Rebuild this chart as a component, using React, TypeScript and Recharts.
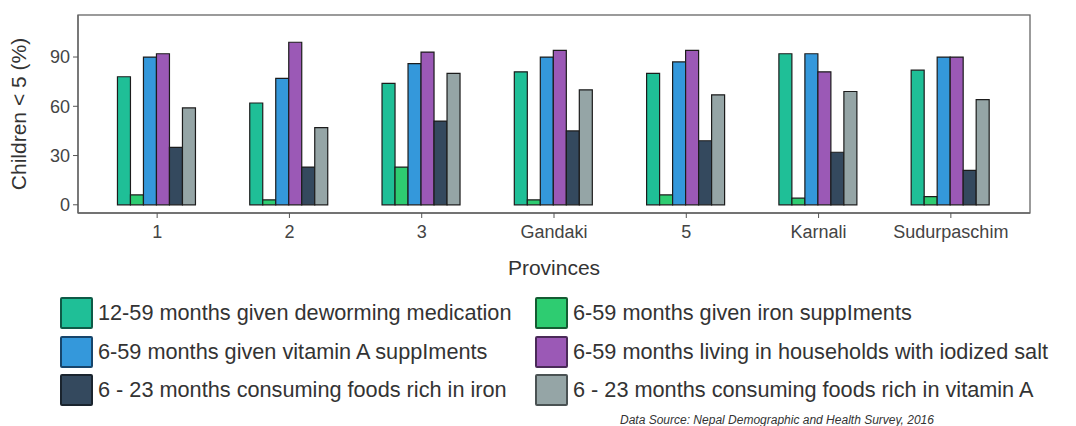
import { Bar, BarChart, Label, XAxis, YAxis, usePlotArea } from "recharts"

const provinces = ["1", "2", "3", "Gandaki", "5", "Karnali", "Sudurpaschim"]

const deworming = [78, 62, 74, 81, 80, 92, 82]
const ironSupp = [6, 3, 23, 3, 6, 4, 5]
const vitaminASupp = [90, 77, 86, 90, 87, 92, 90]
const iodizedSalt = [92, 99, 93, 94, 94, 81, 90]
const ironFoods = [35, 23, 51, 45, 39, 32, 21]
const vitaminAFoods = [59, 47, 80, 70, 67, 69, 64]

const yTicks = [0, 30, 60, 90]

const series = [
    { key: "deworming", name: "12-59 months given deworming medication", fill: "#1fbf97", edge: "#0f5a47", values: deworming },
    { key: "ironSupp", name: "6-59 months given iron suppIments", fill: "#2ecc71", edge: "#145c32", values: ironSupp },
    { key: "vitaminASupp", name: "6-59 months given vitamin A suppIments", fill: "#3498db", edge: "#17456b", values: vitaminASupp },
    { key: "iodizedSalt", name: "6-59 months living in households with iodized salt", fill: "#9b59b6", edge: "#4a2a58", values: iodizedSalt },
    { key: "ironFoods", name: "6 - 23 months consuming foods rich in iron", fill: "#34495e", edge: "#1a242e", values: ironFoods },
    { key: "vitaminAFoods", name: "6 - 23 months consuming foods rich in vitamin A", fill: "#95a5a6", edge: "#4a5253", values: vitaminAFoods },
]

const data = provinces.map((p, i) => {
    const row: Record<string, string | number> = { province: p }
    series.forEach((s) => {
        row[s.key] = s.values[i]
    })
    return row
})

// legend is laid out in two columns, row-major like the original
const legendRows = [
    [series[0], series[1]],
    [series[2], series[3]],
    [series[4], series[5]],
]

const font = "'Liberation Sans', Arial, sans-serif"

function PanelBorder() {
    const area = usePlotArea()
    if (!area) return null
    return <rect x={area.x} y={area.y} width={area.width} height={area.height} fill="none" stroke="#666" strokeWidth={1.3} />
}

export default function App() {
    return (
        <div style={{ position: "absolute", left: 0, top: 0, width: 1076, height: 426, background: "#fff", fontFamily: font }}>
            <BarChart
                width={1076}
                height={300}
                data={data}
                margin={{ top: 15, right: 46, left: 6, bottom: 57 }}
                barCategoryGap="20%"
                barGap={0}
            >
                <XAxis
                    dataKey="province"
                    padding={{ left: 13, right: 13 }}
                    height={30}
                    tickSize={5}
                    tickMargin={7}
                    tick={{ fontSize: 18, fill: "#444", fontFamily: font }}
                    tickLine={{ stroke: "#555" }}
                    axisLine={{ stroke: "#666", strokeWidth: 1.3 }}
                >
                    <Label value="Provinces" position="bottom" offset={17} style={{ fontSize: 21, fill: "#333", fontFamily: font }} />
                </XAxis>
                <YAxis
                    type="number"
                    domain={[-5, 115.6]}
                    ticks={yTicks}
                    width={72}
                    tickSize={5}
                    tickMargin={3}
                    tick={{ fontSize: 18, fill: "#444", fontFamily: font }}
                    tickLine={{ stroke: "#555" }}
                    axisLine={{ stroke: "#666", strokeWidth: 1.3 }}
                    allowDataOverflow
                >
                    <Label
                        value="Children < 5 (%)"
                        angle={-90}
                        position="insideLeft"
                        offset={13}
                        style={{ fontSize: 21, fill: "#333", textAnchor: "middle", fontFamily: font }}
                    />
                </YAxis>
                {series.map((s) => (
                    <Bar key={s.key} dataKey={s.key} name={s.name} fill={s.fill} stroke="#1c1c1c" strokeWidth={1.2} isAnimationActive={false} />
                ))}
                <PanelBorder />
            </BarChart>

            {legendRows.map((row, r) =>
                row.map((s, c) => (
                    <div
                        key={s.key}
                        style={{
                            position: "absolute",
                            left: c === 0 ? 60 : 535,
                            top: 297 + r * 38.5,
                            display: "flex",
                            alignItems: "center",
                            height: 32,
                        }}
                    >
                        <div style={{ width: 29, height: 28, background: s.fill, border: `2px solid ${s.edge}`, borderRadius: 2 }} />
                        <span style={{ marginLeft: 5, fontSize: 21.7, color: "#333", whiteSpace: "nowrap" }}>{s.name}</span>
                    </div>
                ))
            )}

            <div style={{ position: "absolute", left: 620, top: 413, fontSize: 12, fontStyle: "italic", color: "#333", whiteSpace: "nowrap" }}>
                Data Source: Nepal Demographic and Health Survey, 2016
            </div>
        </div>
    )
}
